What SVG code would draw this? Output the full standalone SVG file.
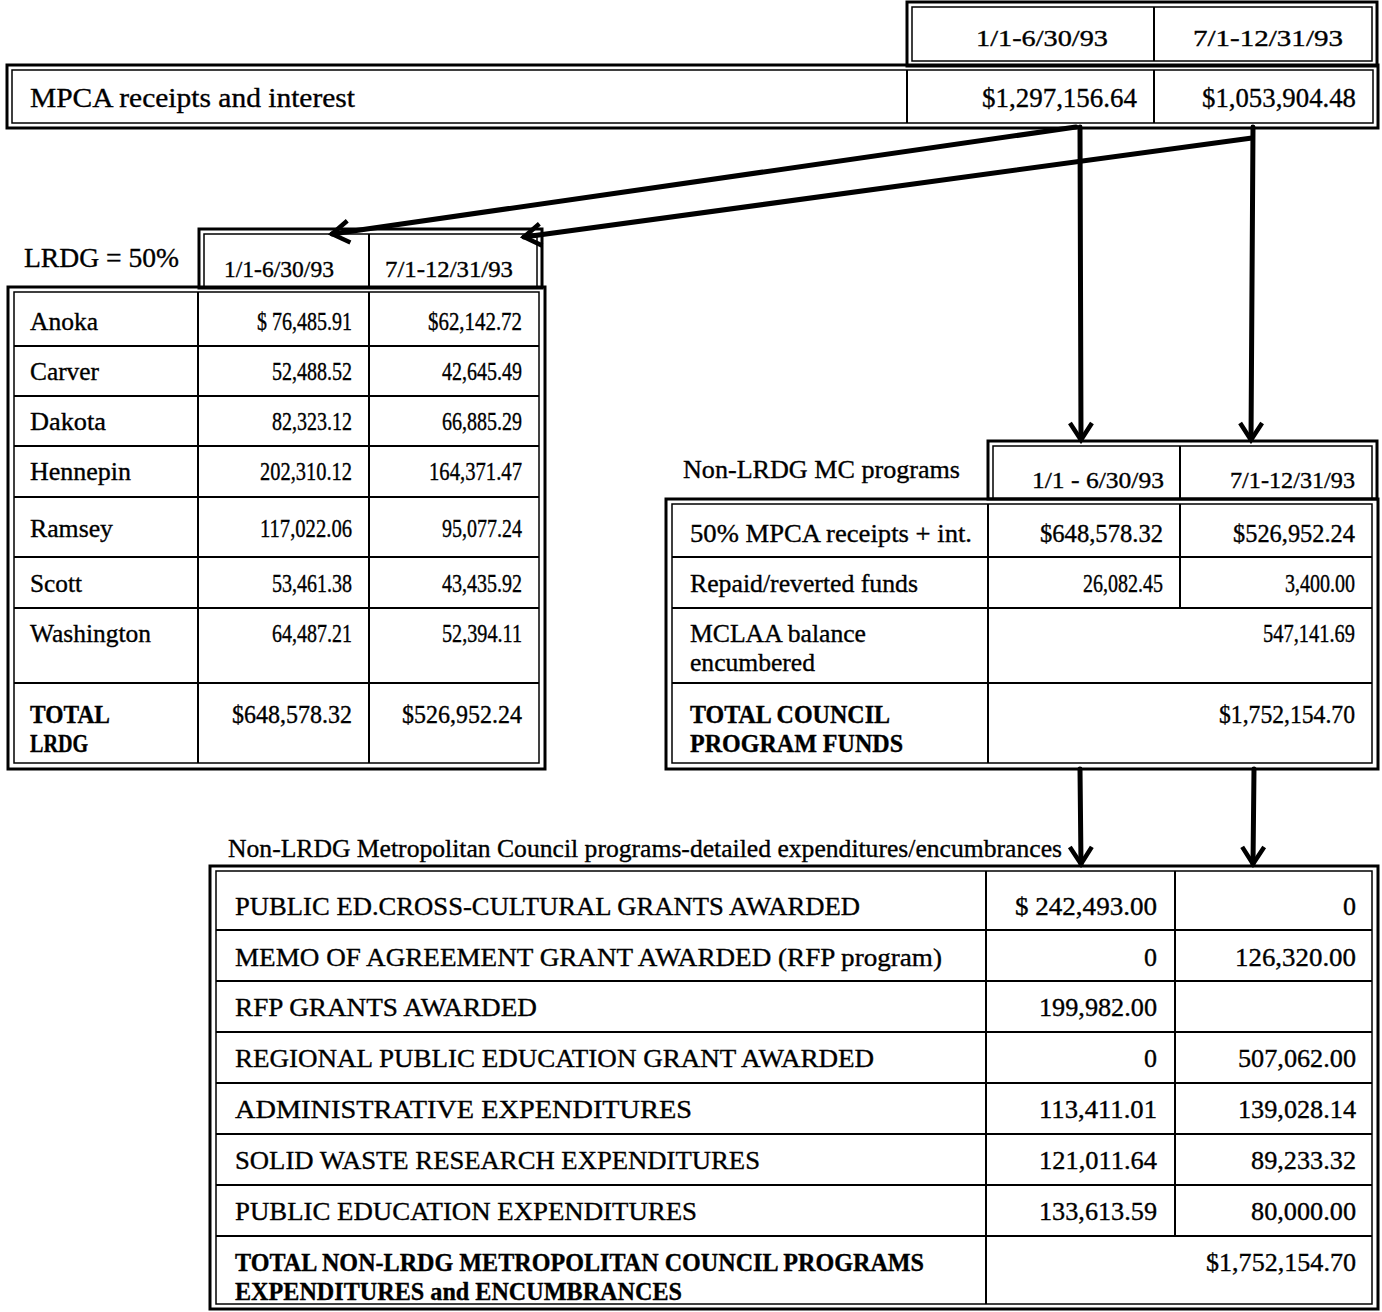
<svg xmlns="http://www.w3.org/2000/svg" width="1382" height="1312" viewBox="0 0 1382 1312">
<style>
text{font-family:"Liberation Serif","Times New Roman",serif;font-size:26px;fill:#000;stroke:#000;stroke-width:0.35}
.b{font-weight:bold}
.h{font-size:23px}
.big{font-size:28px}
.n{font-size:25px}
.o{fill:none;stroke:#000;stroke-width:3}
.i{fill:none;stroke:#000;stroke-width:1.5}
.g{stroke:#000;stroke-width:2;fill:none}
.c{stroke:#000;stroke-width:5;fill:none;stroke-linecap:round}
</style>
<defs>
<marker id="ah" viewBox="-22 -14 26 28" refX="0" refY="0" markerWidth="26" markerHeight="28" markerUnits="userSpaceOnUse" orient="auto">
<path d="M-17,-11 L0,0 L-17,11" fill="none" stroke="#000" stroke-width="4.5" stroke-linejoin="miter"/>
</marker>
</defs>
<rect width="1382" height="1312" fill="#fff"/>

<g id="mpca">
<rect class="o" x="907" y="2" width="470" height="64"/>
<rect class="i" x="912" y="7" width="460" height="54"/>
<line class="g" x1="1154" y1="7" x2="1154" y2="61"/>
<text class="h" x="976" y="46" textLength="132" lengthAdjust="spacingAndGlyphs">1/1-6/30/93</text>
<text class="h" x="1193" y="46" textLength="150" lengthAdjust="spacingAndGlyphs">7/1-12/31/93</text>
<rect class="o" x="7" y="65" width="1371" height="63"/>
<rect class="i" x="12" y="70" width="1361" height="53"/>
<line class="g" x1="907" y1="70" x2="907" y2="123"/>
<line class="g" x1="1154" y1="70" x2="1154" y2="123"/>
<text class="big" x="30" y="107" textLength="325" lengthAdjust="spacingAndGlyphs">MPCA receipts and interest</text>
<text class="big" x="982" y="107" textLength="155" lengthAdjust="spacingAndGlyphs">$1,297,156.64</text>
<text class="big" x="1202" y="107" textLength="154" lengthAdjust="spacingAndGlyphs">$1,053,904.48</text>
</g>

<g id="lrdg">
<text class="big" x="24" y="267" textLength="155" lengthAdjust="spacingAndGlyphs">LRDG = 50%</text>
<rect class="o" x="199" y="229" width="343" height="59"/>
<rect class="i" x="204" y="234" width="333" height="54"/>
<line class="g" x1="369" y1="234" x2="369" y2="288"/>
<text class="h" x="224" y="277" textLength="110" lengthAdjust="spacingAndGlyphs">1/1-6/30/93</text>
<text class="h" x="385" y="277" textLength="128" lengthAdjust="spacingAndGlyphs">7/1-12/31/93</text>
<rect class="o" x="8" y="287" width="537" height="482"/>
<rect class="i" x="14" y="292" width="525" height="471"/>
<line class="g" x1="198" y1="292" x2="198" y2="763"/>
<line class="g" x1="369" y1="292" x2="369" y2="763"/>
<path class="g" d="M14,346H539M14,396H539M14,446H539M14,497H539M14,557H539M14,608H539M14,683H539"/>
<text x="30" y="330" textLength="68" lengthAdjust="spacingAndGlyphs">Anoka</text>
<text class="n" x="257" y="330" textLength="95" lengthAdjust="spacingAndGlyphs">$ 76,485.91</text>
<text class="n" x="428" y="330" textLength="94" lengthAdjust="spacingAndGlyphs">$62,142.72</text>
<text x="30" y="380" textLength="69" lengthAdjust="spacingAndGlyphs">Carver</text>
<text class="n" x="272" y="380" textLength="80" lengthAdjust="spacingAndGlyphs">52,488.52</text>
<text class="n" x="442" y="380" textLength="80" lengthAdjust="spacingAndGlyphs">42,645.49</text>
<text x="30" y="430" textLength="76" lengthAdjust="spacingAndGlyphs">Dakota</text>
<text class="n" x="272" y="430" textLength="80" lengthAdjust="spacingAndGlyphs">82,323.12</text>
<text class="n" x="442" y="430" textLength="80" lengthAdjust="spacingAndGlyphs">66,885.29</text>
<text x="30" y="480" textLength="101" lengthAdjust="spacingAndGlyphs">Hennepin</text>
<text class="n" x="260" y="480" textLength="92" lengthAdjust="spacingAndGlyphs">202,310.12</text>
<text class="n" x="429" y="480" textLength="93" lengthAdjust="spacingAndGlyphs">164,371.47</text>
<text x="30" y="537" textLength="83" lengthAdjust="spacingAndGlyphs">Ramsey</text>
<text class="n" x="260" y="537" textLength="92" lengthAdjust="spacingAndGlyphs">117,022.06</text>
<text class="n" x="442" y="537" textLength="80" lengthAdjust="spacingAndGlyphs">95,077.24</text>
<text x="30" y="592" textLength="52" lengthAdjust="spacingAndGlyphs">Scott</text>
<text class="n" x="272" y="592" textLength="80" lengthAdjust="spacingAndGlyphs">53,461.38</text>
<text class="n" x="442" y="592" textLength="80" lengthAdjust="spacingAndGlyphs">43,435.92</text>
<text x="30" y="642" textLength="121" lengthAdjust="spacingAndGlyphs">Washington</text>
<text class="n" x="272" y="642" textLength="80" lengthAdjust="spacingAndGlyphs">64,487.21</text>
<text class="n" x="442" y="642" textLength="80" lengthAdjust="spacingAndGlyphs">52,394.11</text>
<text class="b" x="30" y="723" textLength="80" lengthAdjust="spacingAndGlyphs">TOTAL</text>
<text class="b" x="30" y="752" textLength="58" lengthAdjust="spacingAndGlyphs">LRDG</text>
<text class="n" x="232" y="723" textLength="120" lengthAdjust="spacingAndGlyphs">$648,578.32</text>
<text class="n" x="402" y="723" textLength="120" lengthAdjust="spacingAndGlyphs">$526,952.24</text>
</g>

<g id="nonlrdg">
<text x="683" y="478" textLength="277" lengthAdjust="spacingAndGlyphs">Non-LRDG MC programs</text>
<rect class="o" x="988" y="441" width="389" height="58"/>
<rect class="i" x="993" y="446" width="379" height="53"/>
<line class="g" x1="1180" y1="446" x2="1180" y2="499"/>
<text class="h" x="1032" y="488" textLength="132" lengthAdjust="spacingAndGlyphs">1/1 - 6/30/93</text>
<text class="h" x="1230" y="488" textLength="125" lengthAdjust="spacingAndGlyphs">7/1-12/31/93</text>
<rect class="o" x="666" y="499" width="712" height="270"/>
<rect class="i" x="672" y="504" width="700" height="259"/>
<line class="g" x1="988" y1="504" x2="988" y2="763"/>
<line class="g" x1="1180" y1="504" x2="1180" y2="608"/>
<path class="g" d="M672,557H1372M672,608H1372M672,683H1372"/>
<text x="690" y="542" textLength="282" lengthAdjust="spacingAndGlyphs">50% MPCA receipts + int.</text>
<text class="n" x="1040" y="542" textLength="123" lengthAdjust="spacingAndGlyphs">$648,578.32</text>
<text class="n" x="1233" y="542" textLength="122" lengthAdjust="spacingAndGlyphs">$526,952.24</text>
<text x="690" y="592" textLength="228" lengthAdjust="spacingAndGlyphs">Repaid/reverted funds</text>
<text class="n" x="1083" y="592" textLength="80" lengthAdjust="spacingAndGlyphs">26,082.45</text>
<text class="n" x="1285" y="592" textLength="70" lengthAdjust="spacingAndGlyphs">3,400.00</text>
<text x="690" y="642" textLength="176" lengthAdjust="spacingAndGlyphs">MCLAA balance</text>
<text x="690" y="671" textLength="125" lengthAdjust="spacingAndGlyphs">encumbered</text>
<text class="n" x="1263" y="642" textLength="92" lengthAdjust="spacingAndGlyphs">547,141.69</text>
<text class="b" x="690" y="723" textLength="200" lengthAdjust="spacingAndGlyphs">TOTAL COUNCIL</text>
<text class="b" x="690" y="752" textLength="213" lengthAdjust="spacingAndGlyphs">PROGRAM FUNDS</text>
<text class="n" x="1219" y="723" textLength="136" lengthAdjust="spacingAndGlyphs">$1,752,154.70</text>
</g>

<g id="detail">
<text x="228" y="857" textLength="834" lengthAdjust="spacingAndGlyphs">Non-LRDG Metropolitan Council programs-detailed expenditures/encumbrances</text>
<rect class="o" x="210" y="866" width="1168" height="443"/>
<rect class="i" x="216" y="871" width="1156" height="433"/>
<line class="g" x1="986" y1="871" x2="986" y2="1304"/>
<line class="g" x1="1175" y1="871" x2="1175" y2="1236"/>
<path class="g" d="M216,930H1372M216,981H1372M216,1032H1372M216,1083H1372M216,1134H1372M216,1185H1372M216,1236H1372"/>
<text x="235" y="915" textLength="625" lengthAdjust="spacingAndGlyphs">PUBLIC ED.CROSS-CULTURAL GRANTS AWARDED</text>
<text x="1015" y="915" textLength="142" lengthAdjust="spacingAndGlyphs">$ 242,493.00</text>
<text x="1356" y="915" text-anchor="end">0</text>
<text x="235" y="966" textLength="707" lengthAdjust="spacingAndGlyphs">MEMO OF AGREEMENT GRANT AWARDED (RFP program)</text>
<text x="1157" y="966" text-anchor="end">0</text>
<text x="1235" y="966" textLength="121" lengthAdjust="spacingAndGlyphs">126,320.00</text>
<text x="235" y="1016" textLength="302" lengthAdjust="spacingAndGlyphs">RFP GRANTS AWARDED</text>
<text x="1039" y="1016" textLength="118" lengthAdjust="spacingAndGlyphs">199,982.00</text>
<text x="235" y="1067" textLength="639" lengthAdjust="spacingAndGlyphs">REGIONAL PUBLIC EDUCATION GRANT AWARDED</text>
<text x="1157" y="1067" text-anchor="end">0</text>
<text x="1238" y="1067" textLength="118" lengthAdjust="spacingAndGlyphs">507,062.00</text>
<text x="235" y="1118" textLength="457" lengthAdjust="spacingAndGlyphs">ADMINISTRATIVE EXPENDITURES</text>
<text x="1039" y="1118" textLength="118" lengthAdjust="spacingAndGlyphs">113,411.01</text>
<text x="1238" y="1118" textLength="118" lengthAdjust="spacingAndGlyphs">139,028.14</text>
<text x="235" y="1169" textLength="525" lengthAdjust="spacingAndGlyphs">SOLID WASTE RESEARCH EXPENDITURES</text>
<text x="1039" y="1169" textLength="118" lengthAdjust="spacingAndGlyphs">121,011.64</text>
<text x="1251" y="1169" textLength="105" lengthAdjust="spacingAndGlyphs">89,233.32</text>
<text x="235" y="1220" textLength="462" lengthAdjust="spacingAndGlyphs">PUBLIC EDUCATION EXPENDITURES</text>
<text x="1039" y="1220" textLength="118" lengthAdjust="spacingAndGlyphs">133,613.59</text>
<text x="1251" y="1220" textLength="105" lengthAdjust="spacingAndGlyphs">80,000.00</text>
<text class="b" x="235" y="1271" textLength="689" lengthAdjust="spacingAndGlyphs">TOTAL NON-LRDG METROPOLITAN COUNCIL PROGRAMS</text>
<text class="b" x="235" y="1300" textLength="447" lengthAdjust="spacingAndGlyphs">EXPENDITURES and ENCUMBRANCES</text>
<text x="1206" y="1271" textLength="150" lengthAdjust="spacingAndGlyphs">$1,752,154.70</text>
</g>

<g id="connectors">
<line class="c" x1="1076" y1="127" x2="332" y2="234" marker-end="url(#ah)"/>
<line class="c" x1="1252" y1="138" x2="524" y2="237" marker-end="url(#ah)"/>
<line class="c" x1="1080" y1="127" x2="1081" y2="440" marker-end="url(#ah)"/>
<line class="c" x1="1253" y1="127" x2="1251" y2="440" marker-end="url(#ah)"/>
<line class="c" x1="1080" y1="769" x2="1081" y2="864" marker-end="url(#ah)"/>
<line class="c" x1="1254" y1="769" x2="1253" y2="864" marker-end="url(#ah)"/>
</g>
</svg>
